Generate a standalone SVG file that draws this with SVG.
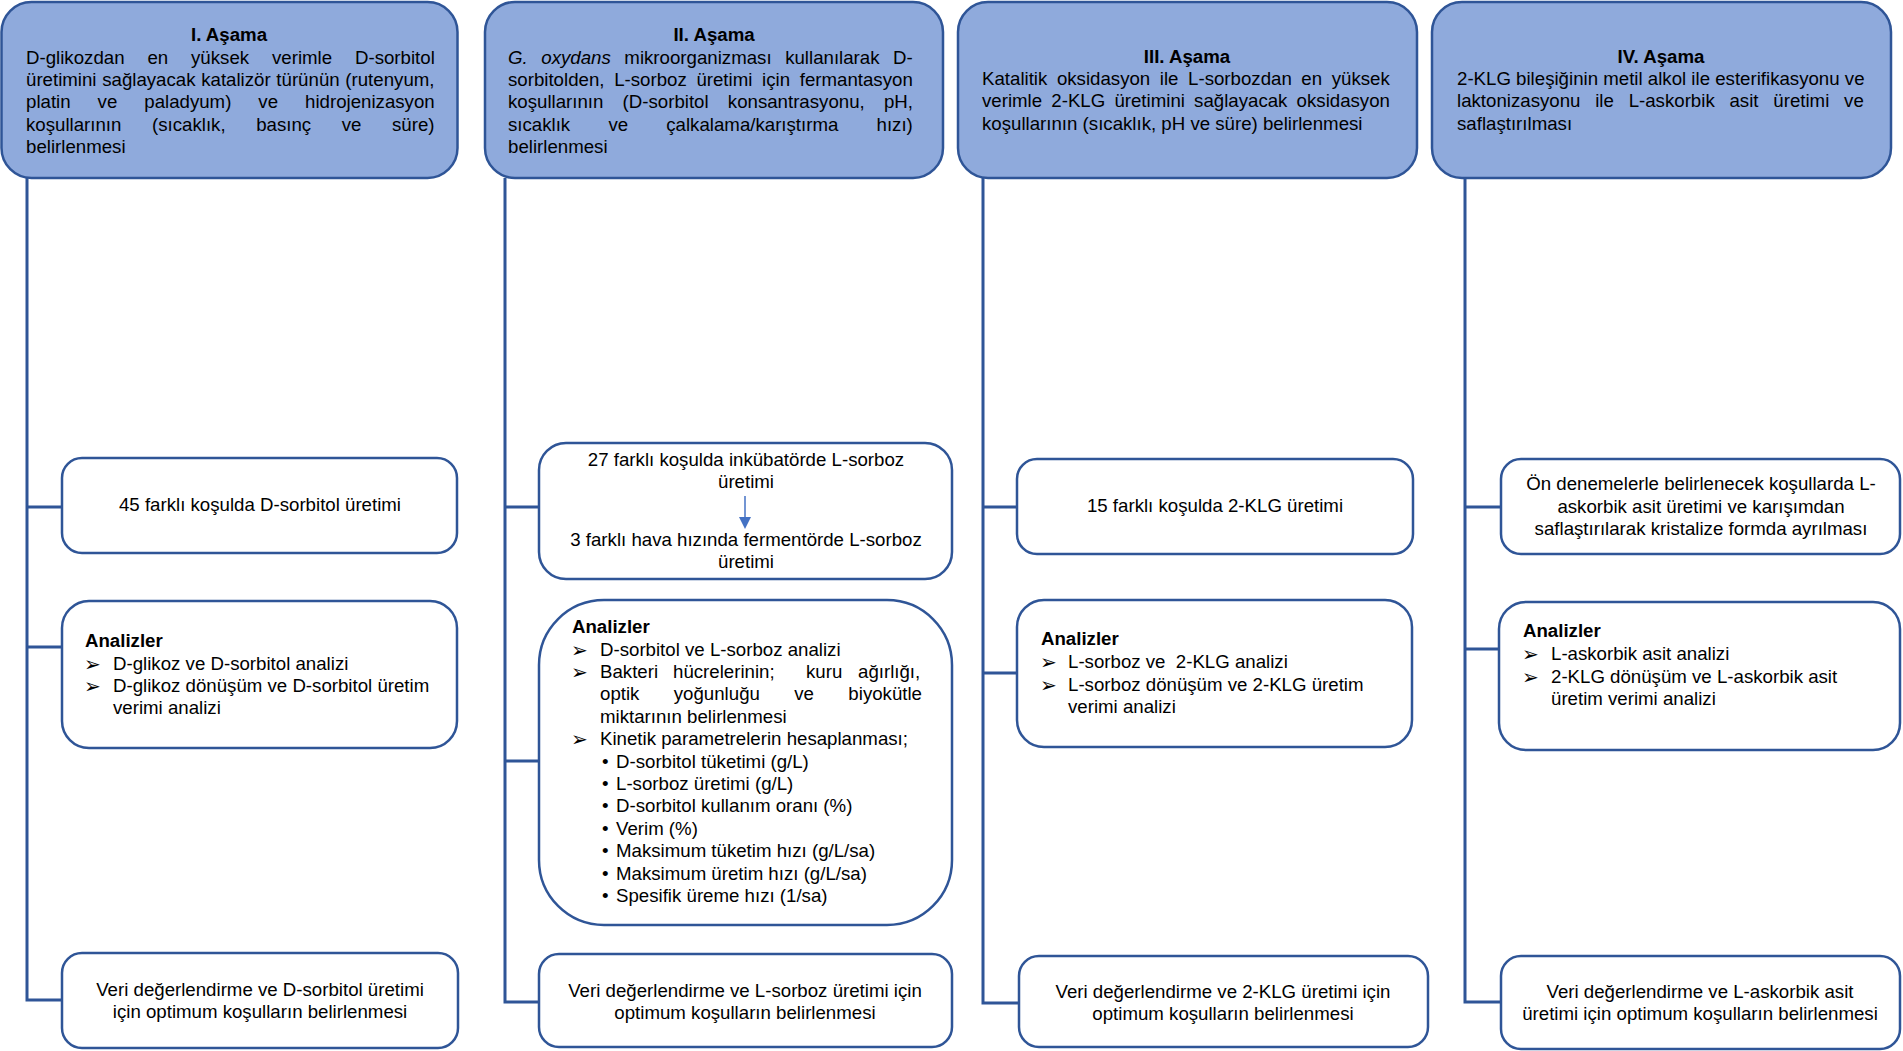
<svg xmlns="http://www.w3.org/2000/svg" width="1903" height="1051" viewBox="0 0 1903 1051">
<style>
text{font-family:"Liberation Sans",Arial,sans-serif;font-size:18.67px;fill:#000}
.b{font-weight:bold}
.m{text-anchor:middle}
.i{font-style:italic}
.ar{font-family:"DejaVu Sans",sans-serif;font-size:20px}
.hdr{fill:#8FAADC;stroke:#2F5597;stroke-width:2.5}
.box{fill:#fff;stroke:#2F5597;stroke-width:2.5}
.ln{stroke:#2F5597;stroke-width:3;fill:none}
.pre{white-space:pre}
</style>

<g id="stage1">
<rect class="hdr" x="1.5" y="2" width="456" height="176" rx="30"/>
<text class="b m" x="229" y="41">I. Aşama</text>
<text x="26" y="64" word-spacing="17.7">D-glikozdan en yüksek verimle D-sorbitol</text>
<text x="26" y="86" word-spacing="0.5">üretimini sağlayacak katalizör türünün (rutenyum,</text>
<text x="26" y="108" word-spacing="21.8">platin ve paladyum) ve hidrojenizasyon</text>
<text x="26" y="131" word-spacing="25.4">koşullarının (sıcaklık, basınç ve süre)</text>
<text x="26" y="153">belirlenmesi</text>
</g>

<g id="stage1-production">
<rect class="box" x="62" y="458" width="395" height="95" rx="20"/>
<text class="m" x="260" y="511">45 farklı koşulda D-sorbitol üretimi</text>
</g>
<g id="stage1-analysis">
<rect class="box" x="62" y="601" width="395" height="147" rx="27"/>
<text class="b" x="85" y="647">Analizler</text>
<text class="ar" x="84" y="671">➢</text><text x="113" y="670">D-glikoz ve D-sorbitol analizi</text>
<text class="ar" x="84" y="693">➢</text><text x="113" y="692">D-glikoz dönüşüm ve D-sorbitol üretim</text>
<text x="113" y="714">verimi analizi</text>
</g>
<g id="stage1-evaluation">
<rect class="box" x="62" y="953" width="396" height="95" rx="20"/>
<text class="m" x="260" y="996">Veri değerlendirme ve D-sorbitol üretimi</text>
<text class="m" x="260" y="1018">için optimum koşulların belirlenmesi</text>
</g>

<g id="stage2">
<rect class="hdr" x="485" y="2" width="458" height="176" rx="30"/>
<text class="b m" x="714" y="41">II. Aşama</text>
<text x="508" y="64" word-spacing="8.4"><tspan class="i">G. oxydans</tspan> mikroorganizması kullanılarak D-</text>
<text x="508" y="86" word-spacing="4.5">sorbitolden, L-sorboz üretimi için fermantasyon</text>
<text x="508" y="108" word-spacing="14.0">koşullarının (D-sorbitol konsantrasyonu, pH,</text>
<text x="508" y="131" word-spacing="33.0">sıcaklık ve çalkalama/karıştırma hızı)</text>
<text x="508" y="153">belirlenmesi</text>
</g>

<g id="stage2-production">
<rect class="box" x="539" y="443" width="413" height="136" rx="27"/>
<text class="m" x="746" y="466">27 farklı koşulda inkübatörde L-sorboz</text>
<text class="m" x="746" y="488">üretimi</text>
<text class="m" x="746" y="546">3 farklı hava hızında fermentörde L-sorboz</text>
<text class="m" x="746" y="568">üretimi</text>
</g>
<g id="stage2-analysis">
<rect class="box" x="539" y="600" width="413" height="325" rx="65"/>
<text class="b" x="572" y="633">Analizler</text>
<text class="ar" x="571" y="657">➢</text><text x="600" y="656">D-sorbitol ve L-sorboz analizi</text>
<text class="ar" x="571" y="679">➢</text><text y="678"><tspan x="600">Bakteri</tspan><tspan x="673">hücrelerinin;</tspan><tspan x="806">kuru</tspan><tspan x="858">ağırlığı,</tspan></text>
<text x="600" y="700" word-spacing="29.2">optik yoğunluğu ve biyokütle</text>
<text x="600" y="723">miktarının belirlenmesi</text>
<text class="ar" x="571" y="746">➢</text><text x="600" y="745">Kinetik parametrelerin hesaplanması;</text>
<text x="602" y="768">•</text><text x="616" y="768">D-sorbitol tüketimi (g/L)</text>
<text x="602" y="790">•</text><text x="616" y="790">L-sorboz üretimi (g/L)</text>
<text x="602" y="812">•</text><text x="616" y="812">D-sorbitol kullanım oranı (%)</text>
<text x="602" y="835">•</text><text x="616" y="835">Verim (%)</text>
<text x="602" y="857">•</text><text x="616" y="857">Maksimum tüketim hızı (g/L/sa)</text>
<text x="602" y="880">•</text><text x="616" y="880">Maksimum üretim hızı (g/L/sa)</text>
<text x="602" y="902">•</text><text x="616" y="902">Spesifik üreme hızı (1/sa)</text>
</g>
<g id="stage2-evaluation">
<rect class="box" x="539" y="954" width="413" height="93" rx="20"/>
<text class="m" x="745" y="997">Veri değerlendirme ve L-sorboz üretimi için</text>
<text class="m" x="745" y="1019">optimum koşulların belirlenmesi</text>
</g>

<g id="stage3">
<rect class="hdr" x="958" y="2" width="459" height="176" rx="30"/>
<text class="b m" x="1187" y="63">III. Aşama</text>
<text x="982" y="85" word-spacing="4.4">Katalitik oksidasyon ile L-sorbozdan en yüksek</text>
<text x="982" y="107" word-spacing="4.0">verimle 2-KLG üretimini sağlayacak oksidasyon</text>
<text x="982" y="130">koşullarının (sıcaklık, pH ve süre) belirlenmesi</text>
</g>

<g id="stage3-production">
<rect class="box" x="1017" y="459" width="396" height="95" rx="20"/>
<text class="m" x="1215" y="512">15 farklı koşulda 2-KLG üretimi</text>
</g>
<g id="stage3-analysis">
<rect class="box" x="1017" y="600" width="395" height="147" rx="27"/>
<text class="b" x="1041" y="645">Analizler</text>
<text class="ar" x="1040" y="669">➢</text><text class="pre" x="1068" y="668">L-sorboz ve  2-KLG analizi</text>
<text class="ar" x="1040" y="692">➢</text><text x="1068" y="691">L-sorboz dönüşüm ve 2-KLG üretim</text>
<text x="1068" y="713">verimi analizi</text>
</g>
<g id="stage3-evaluation">
<rect class="box" x="1019" y="956" width="409" height="91" rx="20"/>
<text class="m" x="1223" y="998">Veri değerlendirme ve 2-KLG üretimi için</text>
<text class="m" x="1223" y="1020">optimum koşulların belirlenmesi</text>
</g>

<g id="stage4">
<rect class="hdr" x="1432" y="2" width="459" height="176" rx="30"/>
<text class="b m" x="1661" y="63">IV. Aşama</text>
<text x="1457" y="85">2-KLG bileşiğinin metil alkol ile esterifikasyonu ve</text>
<text x="1457" y="107" word-spacing="9.6">laktonizasyonu ile L-askorbik asit üretimi ve</text>
<text x="1457" y="130">saflaştırılması</text>
</g>

<g id="stage4-production">
<rect class="box" x="1501" y="459" width="399" height="95" rx="20"/>
<text class="m" x="1701" y="490">Ön denemelerle belirlenecek koşullarda L-</text>
<text class="m" x="1701" y="513">askorbik asit üretimi ve karışımdan</text>
<text class="m" x="1701" y="535">saflaştırılarak kristalize formda ayrılması</text>
</g>
<g id="stage4-analysis">
<rect class="box" x="1499" y="602" width="401" height="148" rx="27"/>
<text class="b" x="1523" y="637">Analizler</text>
<text class="ar" x="1522" y="661">➢</text><text x="1551" y="660">L-askorbik asit analizi</text>
<text class="ar" x="1522" y="684">➢</text><text x="1551" y="683">2-KLG dönüşüm ve L-askorbik asit</text>
<text x="1551" y="705">üretim verimi analizi</text>
</g>
<g id="stage4-evaluation">
<rect class="box" x="1501" y="956" width="399" height="93" rx="20"/>
<text class="m" x="1700" y="998">Veri değerlendirme ve L-askorbik asit</text>
<text class="m" x="1700" y="1020">üretimi için optimum koşulların belirlenmesi</text>
</g>

<g id="connectors">
<path class="ln" d="M27,178 V1000 H62 M27,507 H62 M27,647 H62"/>
<path class="ln" d="M505,178 V1002 H539 M505,507 H539 M505,761 H539"/>
<path class="ln" d="M983,178 V1003 H1019 M983,507 H1017 M983,673 H1017"/>
<path class="ln" d="M1465,178 V1002 H1501 M1465,507 H1501 M1465,649 H1499"/>
<line x1="745" y1="496" x2="745" y2="518" stroke="#4472C4" stroke-width="1.5"/>
<polygon points="739,517 751,517 745,529" fill="#4472C4"/>
</g>
</svg>
